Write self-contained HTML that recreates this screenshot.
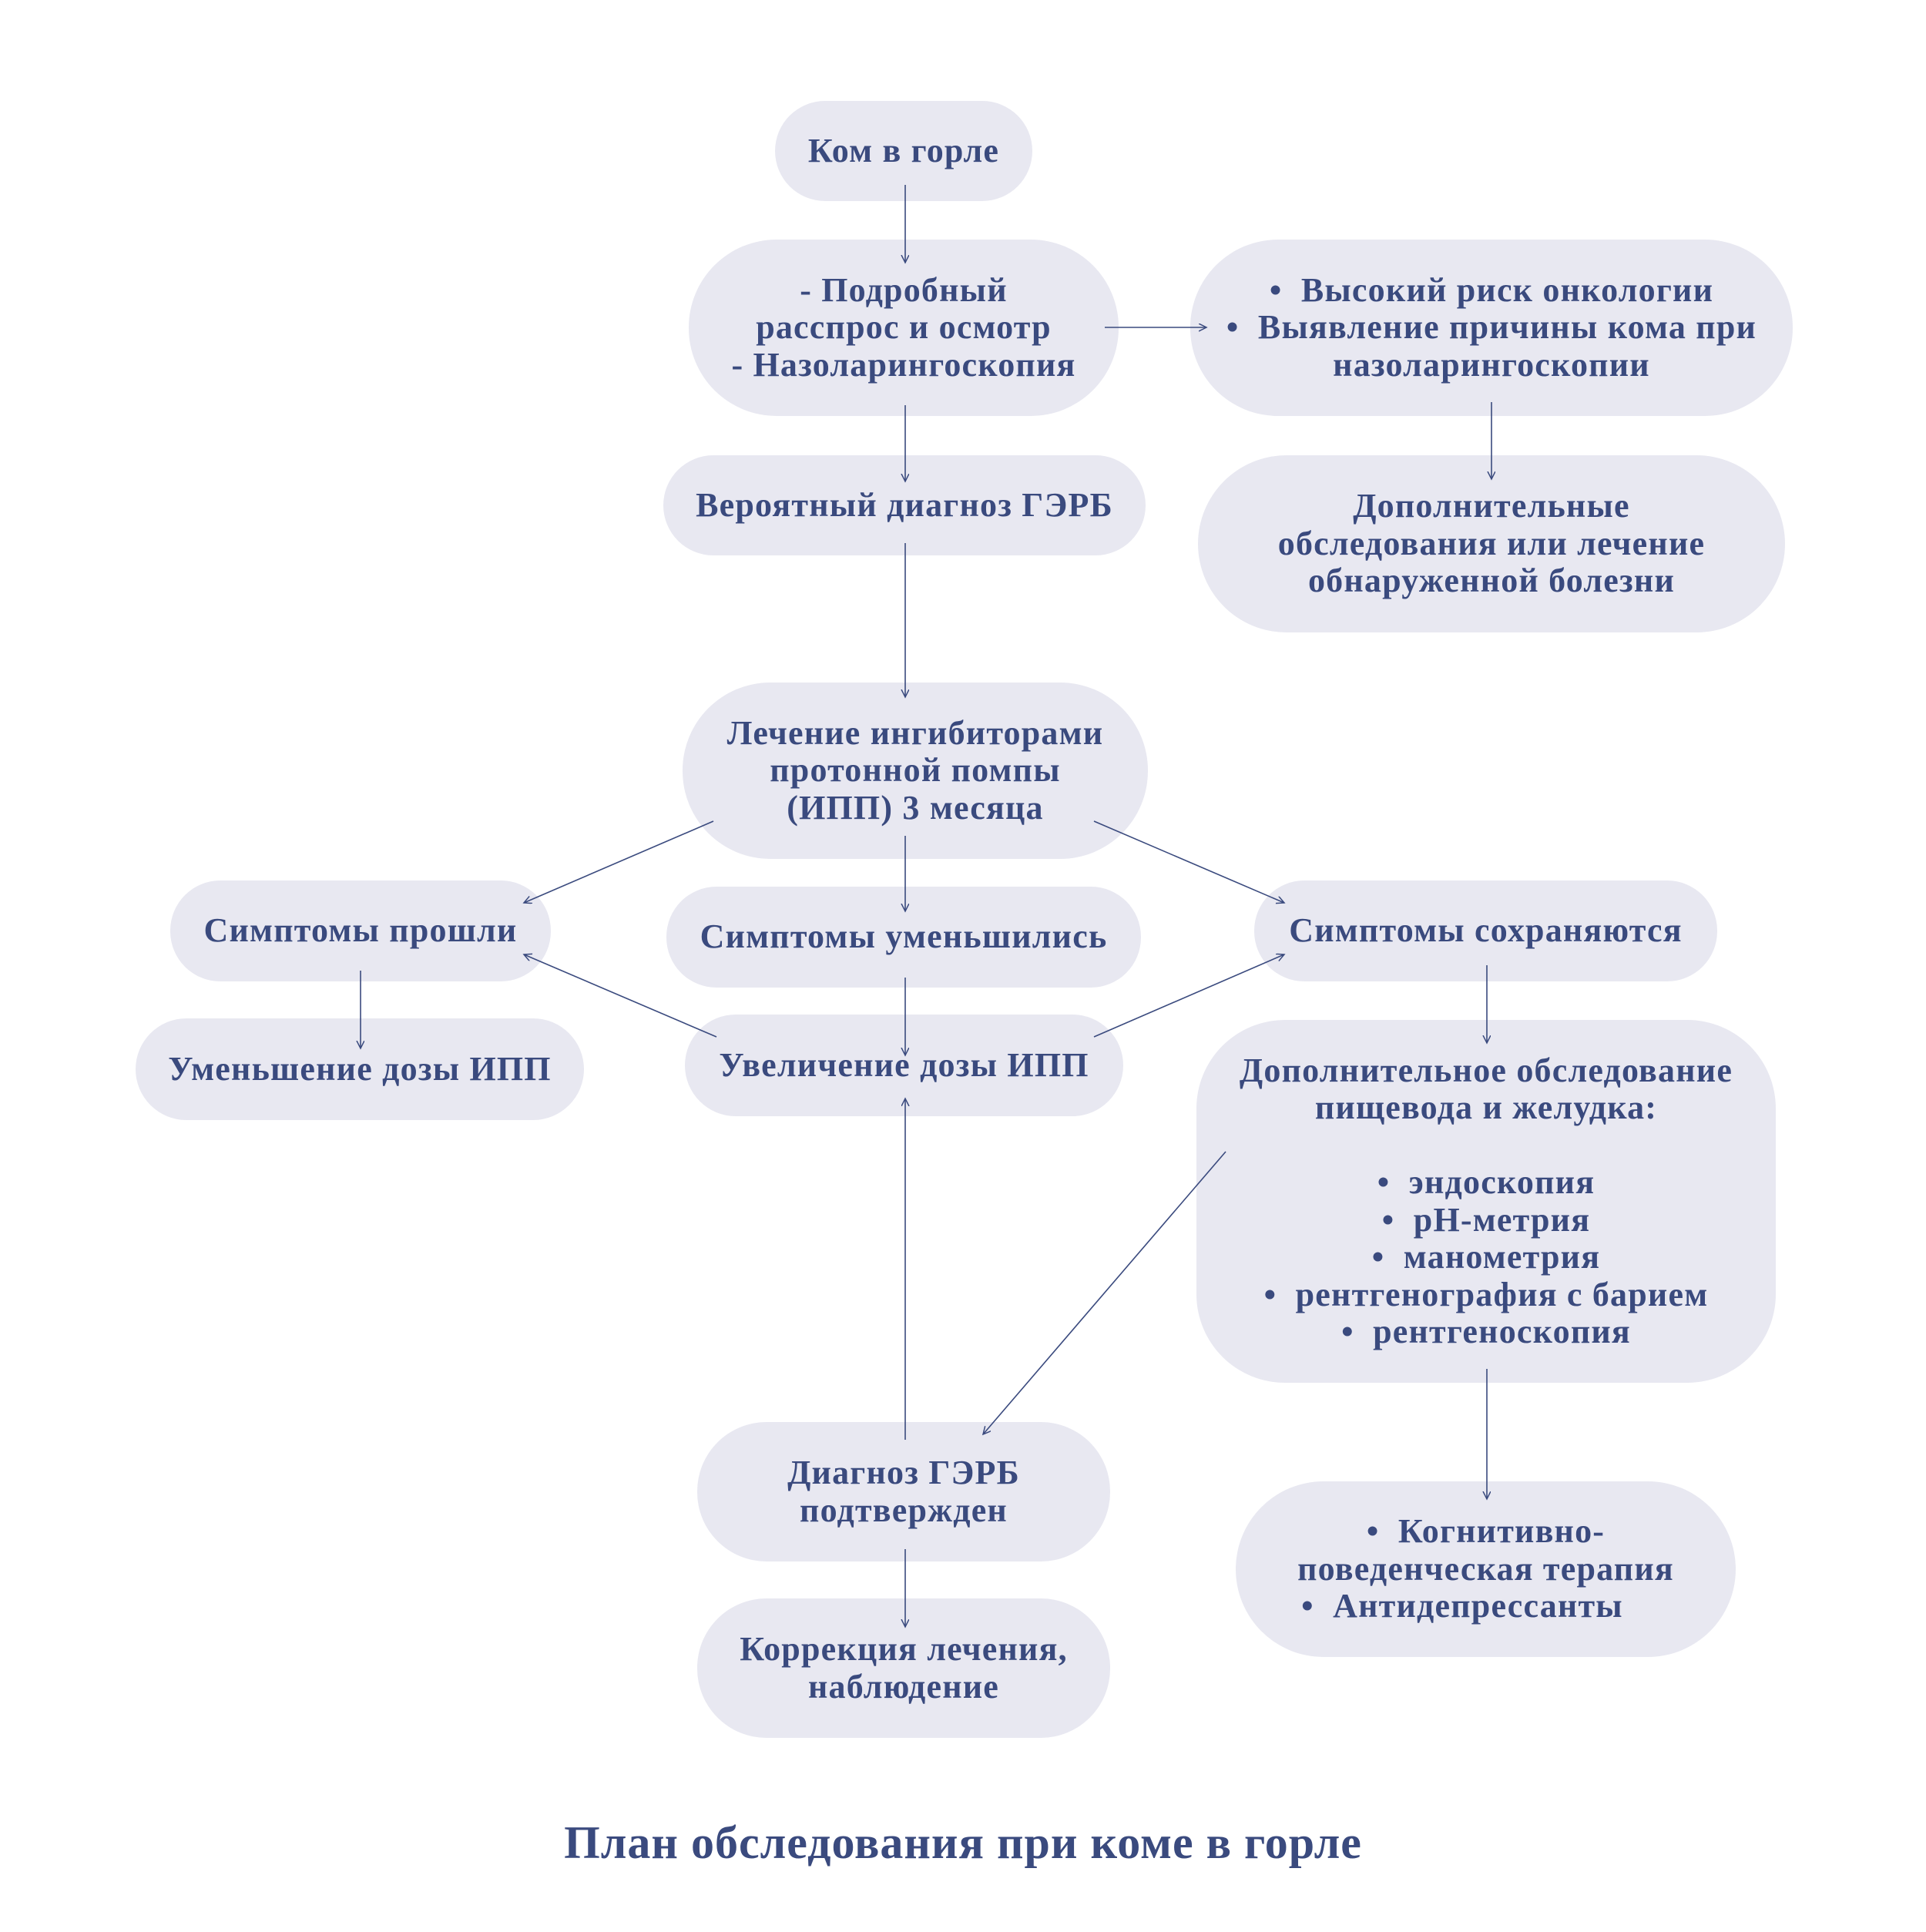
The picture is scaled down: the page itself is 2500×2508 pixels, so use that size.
<!DOCTYPE html>
<html><head><meta charset="utf-8"><style>
body{margin:0;background:#fff;}
#c{position:relative;width:2500px;height:2508px;overflow:hidden;background:#fff;font-family:"Liberation Serif","DejaVu Serif",serif;font-weight:bold;color:#3a4a7e;}
.b{position:absolute;background:#e8e8f1;display:flex;align-items:center;justify-content:center;text-align:center;font-size:44px;line-height:48.5px;letter-spacing:1.2px;box-sizing:border-box;white-space:nowrap;}
svg{position:absolute;left:0;top:0;}
.t{position:absolute;left:0;width:2500px;text-align:center;top:2358px;font-size:60px;letter-spacing:1px;}
</style></head><body><div id="c">
<div class="b" style="left:1006px;top:131px;width:334px;height:130px;border-radius:65px">Ком в горле</div>
<div class="b" style="left:894px;top:311px;width:558px;height:229px;border-radius:114px">- Подробный<br>расспрос и осмотр<br>- Назоларингоскопия</div>
<div class="b" style="left:1545px;top:311px;width:782px;height:229px;border-radius:114px">•&nbsp; Высокий риск онкологии<br>•&nbsp; Выявление причины кома при<br>назоларингоскопии</div>
<div class="b" style="left:861px;top:591px;width:626px;height:130px;border-radius:65px">Вероятный диагноз ГЭРБ</div>
<div class="b" style="left:1555px;top:591px;width:762px;height:230px;border-radius:115px">Дополнительные<br>обследования или лечение<br>обнаруженной болезни</div>
<div class="b" style="left:886px;top:886px;width:604px;height:229px;border-radius:114px">Лечение ингибиторами<br>протонной помпы<br>(ИПП) 3 месяца</div>
<div class="b" style="left:221px;top:1143px;width:494px;height:131px;border-radius:65px">Симптомы прошли</div>
<div class="b" style="left:865px;top:1151px;width:616px;height:131px;border-radius:65px">Симптомы уменьшились</div>
<div class="b" style="left:1628px;top:1143px;width:601px;height:131px;border-radius:65px">Симптомы сохраняются</div>
<div class="b" style="left:176px;top:1322px;width:582px;height:132px;border-radius:66px">Уменьшение дозы ИПП</div>
<div class="b" style="left:889px;top:1317px;width:569px;height:132px;border-radius:66px">Увеличение дозы ИПП</div>
<div class="b" style="left:1553px;top:1324px;width:752px;height:471px;border-radius:115px">Дополнительное обследование<br>пищевода и желудка:<br><br>•&nbsp; эндоскопия<br>•&nbsp; pH-метрия<br>•&nbsp; манометрия<br>•&nbsp; рентгенография с барием<br>•&nbsp; рентгеноскопия</div>
<div class="b" style="left:905px;top:1846px;width:536px;height:181px;border-radius:90px">Диагноз ГЭРБ<br>подтвержден</div>
<div class="b" style="left:1604px;top:1923px;width:649px;height:228px;border-radius:114px">•&nbsp; Когнитивно-<br>поведенческая терапия<br>•&nbsp; Антидепрессанты&nbsp;&nbsp;&nbsp;&nbsp;&nbsp;</div>
<div class="b" style="left:905px;top:2075px;width:536px;height:181px;border-radius:90px">Коррекция лечения,<br>наблюдение</div>
<svg width="2500" height="2508" viewBox="0 0 2500 2508">
<defs><marker id="a" markerWidth="12" markerHeight="12" refX="10" refY="5" orient="auto" markerUnits="userSpaceOnUse"><path d="M0,0 L10,5 L0,10" fill="none" stroke="#3a4a7e" stroke-width="1.5"/></marker></defs>
<g stroke="#3a4a7e" stroke-width="1.6" fill="none" marker-end="url(#a)">
<line x1="1175" y1="240" x2="1175" y2="341"/>
<line x1="1175" y1="526" x2="1175" y2="625"/>
<line x1="1434" y1="425" x2="1566" y2="425"/>
<line x1="1936" y1="522" x2="1936" y2="622"/>
<line x1="1175" y1="705" x2="1175" y2="905"/>
<line x1="926" y1="1066" x2="680" y2="1172"/>
<line x1="1175" y1="1085" x2="1175" y2="1183"/>
<line x1="1420" y1="1066" x2="1667" y2="1172"/>
<line x1="468" y1="1260" x2="468" y2="1361"/>
<line x1="930" y1="1346" x2="680" y2="1239"/>
<line x1="1175" y1="1269" x2="1175" y2="1370"/>
<line x1="1420" y1="1346" x2="1667" y2="1239"/>
<line x1="1930" y1="1253" x2="1930" y2="1354"/>
<line x1="1591" y1="1495" x2="1276" y2="1862"/>
<line x1="1175" y1="1869" x2="1175" y2="1426"/>
<line x1="1930" y1="1777" x2="1930" y2="1946"/>
<line x1="1175" y1="2011" x2="1175" y2="2112"/>
</g></svg>
<div class="t">План обследования при коме в горле</div>
</div></body></html>
